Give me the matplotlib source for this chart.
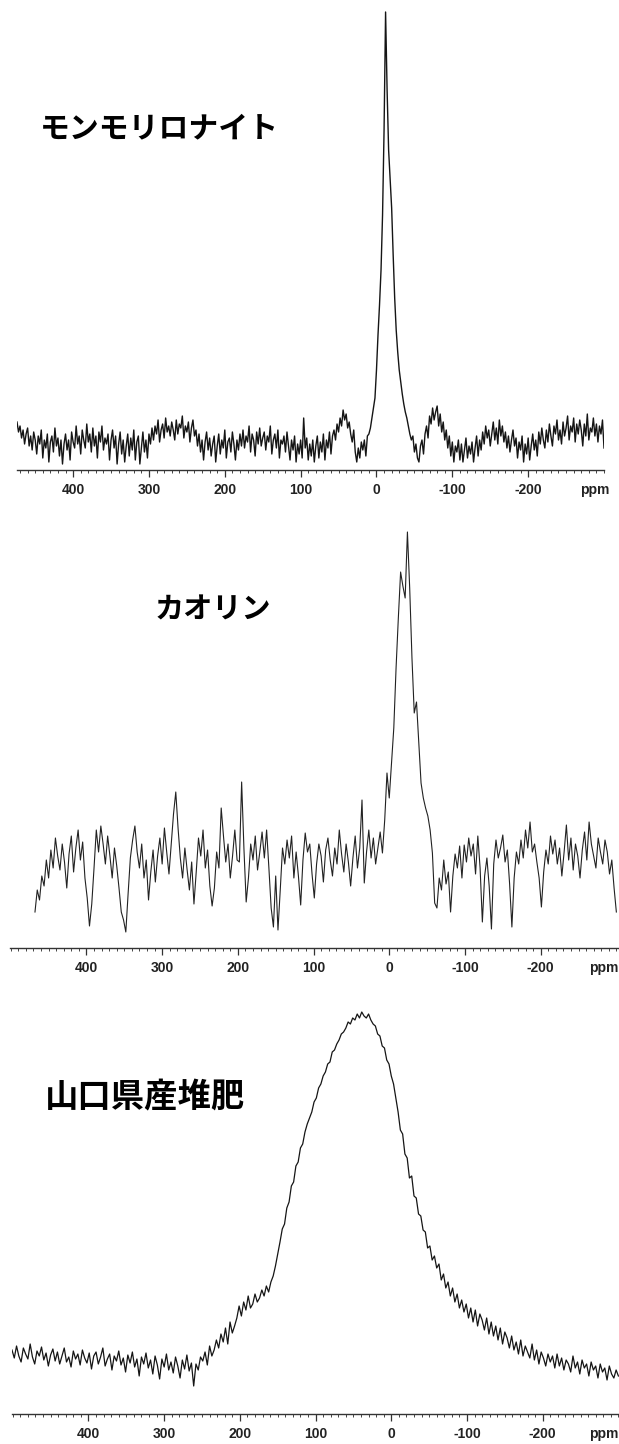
import matplotlib
matplotlib.use("Agg")
import matplotlib.pyplot as plt
import numpy as np
from matplotlib.ticker import FixedLocator, MultipleLocator, FixedFormatter

# ---------------- data ----------------
tick_values = [400, 300, 200, 100, 0, -100, -200]
tick_labels = ["400", "300", "200", "100", "0", "-100", "-200"]
unit_label = "ppm"

names = ["モンモリロナイト", "カオリン", "山口県産堆肥"]

# Montmorillonite: ppm grid 474 -> -300, step 2 ppm (intensity, arbitrary units)
mont_start, mont_step = 474, 2
mont_values = [
    48, 38, 44, 32, 40, 26, 36, 42, 24, 34,
    20, 38, 30, 16, 34, 26, 40, 12, 30, 22,
    36, 8, 28, 34, 18, 42, 24, 32, 14, 30,
    6, 26, 36, 20, 30, 10, 38, 28, 22, 44,
    26, 34, 16, 40, 30, 22, 46, 28, 36, 18,
    42, 24, 34, 12, 38, 28, 44, 20, 32, 26,
    36, 10, 30, 40, 22, 34, 6, 26, 38, 16,
    30, 8, 24, 36, 14, 32, 20, 40, 10, 28,
    34, 6, 22, 38, 18, 30, 12, 36, 26, 42,
    30, 44, 36, 50, 28, 40, 46, 32, 52, 38,
    44, 34, 48, 40, 30, 50, 36, 46, 42, 54,
    32, 44, 38, 48, 28, 42, 50, 34, 40, 24,
    36, 18, 30, 10, 28, 38, 20, 32, 14, 26,
    34, 8, 24, 36, 16, 30, 22, 40, 12, 28,
    32, 18, 38, 26, 10, 30, 20, 36, 24, 40,
    22, 34, 28, 44, 18, 36, 30, 14, 38, 26,
    42, 24, 32, 38, 20, 34, 28, 44, 16, 30,
    36, 22, 40, 12, 30, 26, 34, 18, 38, 24,
    10, 30, 20, 34, 8, 26, 16, 30, 12, 52,
    22, 32, 10, 26, 14, 30, 8, 24, 34, 12,
    28, 18, 36, 10, 30, 22, 38, 16, 34, 40,
    30, 46, 38, 52, 44, 60, 50, 56, 42, 48,
    36, 28, 40, 18, 8, 22, 12, 28, 20, 30,
    14, 34, 36, 42, 52, 62, 72, 100, 135, 165,
    200, 255, 340, 458, 380, 320, 292, 262, 215, 172,
    140, 118, 100, 88, 76, 66, 58, 52, 44, 36,
    30, 34, 18, 26, 12, 8, 24, 30, 16, 36,
    44, 32, 54, 46, 62, 50, 58, 64, 44, 56,
    38, 48, 30, 40, 22, 34, 14, 28, 8, 24,
    18, 30, 10, 26, 8, 20, 32, 12, 24, 16,
    28, 8, 22, 34, 14, 30, 20, 38, 26, 44,
    32, 40, 24, 36, 48, 30, 42, 26, 50, 34,
    44, 28, 38, 22, 34, 18, 30, 40, 24, 32,
    12, 28, 20, 34, 8, 26, 16, 32, 10, 24,
    36, 20, 30, 14, 38, 26, 42, 30, 22, 40,
    28, 46, 34, 24, 44, 36, 50, 30, 40, 26,
    48, 34, 42, 54, 30, 44, 38, 52, 28, 46,
    36, 50, 40, 24, 46, 34, 56, 30, 42, 38,
    52, 34, 46, 28, 44, 36, 50, 22,
]

# Kaolinite: ppm grid 468 -> -300, step 3 ppm
kaol_start, kaol_step = 468, 3
kaol_values = [
    36, 58, 48, 72, 62, 88, 70, 98, 80, 110,
    92, 78, 104, 86, 60, 94, 112, 76, 100, 118,
    88, 106, 70, 50, 22, 44, 80, 118, 96, 122,
    104, 84, 112, 92, 70, 100, 82, 60, 36, 28,
    16, 54, 90, 108, 122, 96, 80, 104, 70, 88,
    48, 76, 98, 66, 92, 110, 84, 120, 96, 74,
    104, 134, 156, 120, 90, 70, 100, 78, 58, 86,
    44, 76, 110, 92, 118, 80, 98, 62, 42, 60,
    96, 80, 140, 112, 86, 104, 70, 92, 118, 88,
    86, 166, 100, 46, 70, 104, 88, 112, 78, 96,
    116, 90, 118, 80, 40, 21, 72, 18, 58, 100,
    84, 108, 90, 112, 70, 96, 72, 43, 88, 115,
    96, 104, 74, 50, 84, 104, 92, 66, 98, 110,
    88, 72, 100, 84, 118, 94, 76, 104, 86, 62,
    90, 112, 80, 100, 148, 65, 96, 118, 90, 110,
    84, 100, 116, 95, 128, 175, 150, 185, 220, 280,
    330, 376, 362, 350, 416, 360, 290, 235, 246, 205,
    165, 150, 140, 132, 118, 95, 45, 40, 70, 58,
    88, 64, 76, 36, 72, 94, 80, 102, 70, 103,
    86, 110, 92, 104, 74, 112, 80, 26, 72, 90,
    62, 19, 84, 108, 90, 100, 113, 86, 98, 64,
    21, 70, 96, 84, 108, 90, 118, 100, 126, 96,
    104, 86, 70, 41, 76, 98, 84, 112, 94, 108,
    84, 100, 72, 96, 123, 88, 110, 78, 104, 92,
    70, 98, 116, 88, 126, 104, 92, 80, 110, 96,
    84, 108, 96, 74, 88, 60, 36,
]

# Compost (Yamaguchi): ppm grid 501 -> -300, step 3 ppm
comp_start, comp_step = 501, 3
comp_values = [
    64, 56, 68, 58, 52, 66, 60, 55, 70, 57,
    50, 63, 58, 67, 54, 61, 48, 59, 65, 53,
    62, 50, 58, 66, 52, 57, 47, 63, 55, 60,
    49, 64, 56, 51, 61, 45, 58, 62, 50, 57,
    66, 48, 55, 60, 44, 58, 53, 63, 49, 56,
    42, 59, 51, 62, 47, 55, 38, 57, 50, 61,
    46, 54, 40, 58, 49, 35, 55, 47, 60, 44,
    52, 41, 57, 48, 36, 54, 45, 59, 43, 51,
    28, 50, 44, 57, 53, 62, 49, 68, 58, 64,
    74, 66, 80, 72, 86, 70, 92, 81, 88, 96,
    108, 98, 112, 104, 118, 106, 110, 120, 112, 116,
    124, 118, 128, 122, 132, 138, 148, 160, 172, 185,
    190, 206, 212, 228, 232, 248, 252, 266, 270, 282,
    290, 296, 302, 312, 316, 326, 330, 338, 342, 350,
    352, 362, 364, 370, 374, 380, 382, 386, 392, 390,
    396, 394, 400, 396, 402, 398, 396, 400, 394, 390,
    388, 380, 378, 368, 366, 354, 350, 338, 330, 316,
    302, 284, 280, 260, 256, 236, 238, 218, 216, 200,
    198, 184, 182, 166, 168, 154, 158, 146, 150, 134,
    140, 126, 132, 118, 126, 112, 120, 106, 114, 102,
    110, 96, 106, 92, 104, 88, 100, 94, 84, 96,
    80, 92, 78, 88, 74, 86, 70, 82, 76, 66,
    78, 64, 72, 60, 74, 58, 68, 62, 56, 70,
    54, 64, 50, 62, 56, 48, 60, 52, 58, 46,
    60, 48, 56, 44, 54, 50, 42, 58, 46, 52,
    40, 54, 46, 50, 38, 52, 44, 48, 36, 50,
    42, 46, 34, 48, 40, 36, 44, 38,
]

# ---------------- figure ----------------
W, H = 619, 1444
fig = plt.figure(figsize=(W / 100, H / 100), dpi=100)
fig.patch.set_facecolor("white")

TICK_FAMILY = ["Liberation Sans", "DejaVu Sans"]
TICK_SIZE = 10
JP_FONT = ["Noto Sans CJK JP", "DejaVu Sans"]


def make_panel(left_px, right_px, top_px, axis_px, xmax, xmin, ymax, unit_px=None):
    ax = fig.add_axes([left_px / W, 1 - axis_px / H,
                       (right_px - left_px) / W, (axis_px - top_px) / H])
    ax.set_xlim(xmax, xmin)
    ax.set_ylim(0, ymax)
    for s in ["left", "right", "top"]:
        ax.spines[s].set_visible(False)
    ax.spines["bottom"].set_linewidth(1.0)
    ax.spines["bottom"].set_color("#333333")
    ax.yaxis.set_visible(False)
    ax.xaxis.set_major_locator(FixedLocator(tick_values))
    ax.xaxis.set_major_formatter(FixedFormatter(tick_labels))
    ax.xaxis.set_minor_locator(MultipleLocator(10))
    ax.tick_params(axis="x", which="major", direction="out", length=5,
                   width=0.9, color="#333333", pad=4)
    ax.tick_params(axis="x", which="minor", direction="out", length=2.5,
                   width=0.7, color="#444444")
    for lab in ax.get_xticklabels():
        lab.set_fontfamily(TICK_FAMILY)
        lab.set_fontweight("bold")
        lab.set_fontsize(TICK_SIZE)
        lab.set_color("#222222")
    if unit_px is None:
        ax.annotate(unit_label, xy=(-288, 0), xycoords=("data", "axes fraction"),
                    xytext=(0, -9.5), textcoords="offset points", ha="center", va="top",
                    fontfamily=TICK_FAMILY, fontweight="bold",
                    fontsize=TICK_SIZE, color="#222222", annotation_clip=False)
    else:
        fig.text(unit_px / W, 1 - (axis_px + 13) / H, unit_label, ha="right", va="top",
                 fontfamily=TICK_FAMILY, fontweight="bold",
                 fontsize=TICK_SIZE, color="#222222")
    ax.patch.set_alpha(0)
    return ax


def grid(start, step, n):
    return start - step * np.arange(n)


# Panel 1
ax1 = make_panel(17, 604, 0, 470, 474, -300, 470)
ax1.plot(grid(mont_start, mont_step, len(mont_values)), mont_values,
         color="#151515", lw=1.0)

# Panel 2
ax2 = make_panel(10, 619, 500, 948, 501, -303.5, 448, unit_px=618)
ax2.plot(grid(kaol_start, kaol_step, len(kaol_values)), kaol_values,
         color="#222222", lw=0.8)

# Panel 3
ax3 = make_panel(12, 619, 980, 1414, 501, -300.8, 434, unit_px=618)
ax3.plot(grid(comp_start, comp_step, len(comp_values)), comp_values,
         color="#151515", lw=0.9)

# Sample names
fig.text(40 / W, 1 - 128 / H, names[0], family=JP_FONT, weight="bold",
         fontsize=21.5, ha="left", va="center", color="black")
fig.text(155 / W, 1 - 610 / H, names[1], family=JP_FONT, weight="bold",
         fontsize=21, ha="left", va="center", color="black")
fig.text(45 / W, 1 - 1098 / H, names[2], family=JP_FONT, weight="bold",
         fontsize=24, ha="left", va="center", color="black")

fig.savefig("out.png", dpi=100, facecolor="white")
